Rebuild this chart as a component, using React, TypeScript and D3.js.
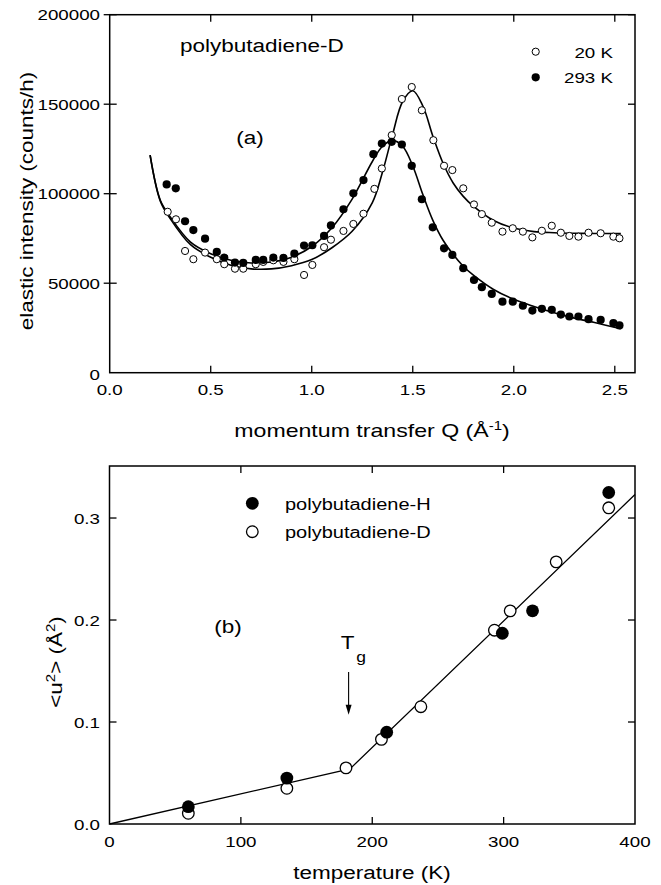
import React, { useRef, useEffect } from "react";
import * as d3 from "d3";

// (a) elastic intensity vs momentum transfer, polybutadiene-D
const qOpen = [0.287, 0.328, 0.373, 0.414, 0.472, 0.53, 0.567, 0.62, 0.661, 0.723, 0.76, 0.81, 0.86, 0.914, 0.962, 1.003, 1.061, 1.095, 1.157, 1.206, 1.256, 1.31, 1.347, 1.396, 1.446, 1.495, 1.545, 1.602, 1.655, 1.696, 1.75, 1.803, 1.842, 1.891, 1.944, 1.995, 2.045, 2.092, 2.139, 2.188, 2.233, 2.275, 2.32, 2.37, 2.43, 2.493, 2.523];
const iOpen = [89900, 85700, 68000, 63400, 67100, 63400, 60600, 58100, 58100, 60600, 61900, 62800, 61900, 63400, 54600, 60200, 70100, 74300, 79200, 83100, 88800, 102700, 114100, 132700, 152900, 159600, 146600, 129900, 115600, 113200, 103000, 94000, 88600, 83800, 78800, 80700, 78800, 75600, 79300, 82100, 78200, 76400, 76000, 78200, 77900, 76000, 75100];

const qFilled = [0.282, 0.327, 0.373, 0.414, 0.472, 0.53, 0.567, 0.62, 0.661, 0.723, 0.76, 0.81, 0.86, 0.914, 0.962, 1.003, 1.061, 1.095, 1.157, 1.206, 1.256, 1.305, 1.347, 1.396, 1.446, 1.495, 1.545, 1.599, 1.655, 1.696, 1.75, 1.803, 1.842, 1.891, 1.944, 1.995, 2.045, 2.092, 2.139, 2.188, 2.233, 2.275, 2.32, 2.37, 2.43, 2.493, 2.523];
const iFilled = [105200, 103000, 84600, 79700, 74900, 67500, 64300, 61500, 61300, 63000, 63000, 64300, 64100, 66500, 71000, 71200, 76400, 82300, 91300, 100200, 107600, 122100, 128000, 129000, 127500, 115600, 96900, 81200, 69500, 65800, 58400, 51800, 47800, 44000, 39700, 39700, 37400, 34700, 35700, 35100, 32500, 31400, 31400, 29900, 29500, 27700, 26400];

// fitted curves
const fitQ = [0.2, 0.25, 0.3, 0.4, 0.5, 0.6, 0.7, 0.8, 0.9, 1.0, 1.1, 1.2, 1.3, 1.35, 1.4, 1.45, 1.5, 1.55, 1.6, 1.65, 1.7, 1.75, 1.8, 1.9, 2.0, 2.1, 2.2, 2.3, 2.4, 2.53];
const fitOpen = [121500, 96000, 86000, 71500, 64500, 60000, 58000, 58000, 59800, 63200, 69800, 79000, 95000, 112000, 133000, 151500, 157500, 149000, 132000, 117000, 106000, 98500, 93000, 85000, 80800, 78800, 78200, 77900, 77800, 77700];
const fitFilled = [121500, 96500, 87000, 73000, 66500, 62800, 61300, 61800, 64500, 70500, 81000, 97000, 118000, 126500, 129800, 126500, 115500, 99500, 85000, 74000, 66000, 59500, 54500, 46500, 41000, 37000, 33500, 30500, 28000, 24500];

const qTicks = [0, 0.5, 1.0, 1.5, 2.0, 2.5];
const iTicks = [0, 50000, 100000, 150000, 200000];

// (b) mean square displacement vs temperature
const tempH = [60, 135, 211, 299, 322, 380];
const u2H = [0.017, 0.045, 0.09, 0.187, 0.209, 0.325];
const tempD = [60, 135, 180, 207, 237, 293, 305, 340, 380];
const u2D = [0.0105, 0.035, 0.055, 0.083, 0.115, 0.19, 0.209, 0.257, 0.31];
const fitT = [0, 183, 400];
const fitU2 = [0, 0.054, 0.323];
const TG = 182;

const tTicks = [0, 100, 200, 300, 400];
const uTicks = [0, 0.1, 0.2, 0.3];

const FONT = "'Liberation Sans', Arial, Helvetica, sans-serif";
const SX = 1.25; // the original lettering is wide

const addText = (g, x, y, str, size, anchor = "start", rot = 0) =>
  g
    .append("text")
    .attr("transform", `translate(${x},${y}) rotate(${rot}) scale(${SX},1)`)
    .attr("text-anchor", anchor)
    .style("font-size", `${size}px`)
    .text(str);

const drawBox = (g, x, y, tick) => {
  const [x0, x1] = x.range();
  const [y0, y1] = y.range();
  g.append("rect")
    .attr("x", x0)
    .attr("y", y1)
    .attr("width", x1 - x0)
    .attr("height", y0 - y1)
    .attr("fill", "none")
    .attr("stroke", "black")
    .attr("stroke-width", 1.5);
};

export default function App() {
  const ref = useRef(null);

  useEffect(() => {
    const svg = d3.select(ref.current);
    svg.selectChildren().remove();
    const root = svg.append("g").style("font-family", FONT).attr("fill", "black");

    // ---------- (a) ----------
    const xA = d3.scaleLinear().domain([0, 2.6]).range([109.7, 635]);
    const yA = d3.scaleLinear().domain([0, 200000]).range([372.7, 14.7]);
    const a = root.append("g");
    drawBox(a, xA, yA);

    // ticks
    qTicks.slice(1).forEach((q) => {
      a.append("line").attr("x1", xA(q)).attr("x2", xA(q)).attr("y1", yA(0)).attr("y2", yA(0) - 7).attr("stroke", "black").attr("stroke-width", 1.3);
      a.append("line").attr("x1", xA(q)).attr("x2", xA(q)).attr("y1", yA(200000)).attr("y2", yA(200000) + 7).attr("stroke", "black").attr("stroke-width", 1.3);
    });
    iTicks.slice(1).forEach((v) => {
      a.append("line").attr("x1", xA(0) - 6).attr("x2", xA(0) + 7).attr("y1", yA(v)).attr("y2", yA(v)).attr("stroke", "black").attr("stroke-width", 1.3);
      a.append("line").attr("x1", xA(2.6)).attr("x2", xA(2.6) - 7).attr("y1", yA(v)).attr("y2", yA(v)).attr("stroke", "black").attr("stroke-width", 1.3);
    });
    qTicks.forEach((q) => addText(a, xA(q), yA(0) + 22.5, d3.format(".1f")(q), 15, "middle"));
    iTicks.forEach((v) => addText(a, 100, yA(v) + (v === 0 ? 7.5 : 5.5), d3.format("d")(v), 15, "end"));

    // axis titles
    const xt = addText(a, 372, 436.7, "momentum transfer Q (Å", 18.5, "middle");
    xt.append("tspan").attr("dy", -7).style("font-size", "12px").text("-1");
    xt.append("tspan").attr("dy", 7).text(")");
    addText(a, 33, 201, "elastic intensity (counts/h)", 18, "middle", -90);

    // fitted curves
    const lineA = d3
      .line()
      .x((d) => xA(d[0]))
      .y((d) => yA(d[1]))
      .curve(d3.curveCatmullRom.alpha(0.5));
    [fitOpen, fitFilled].forEach((f) =>
      a.append("path")
        .attr("d", lineA(fitQ.map((q, i) => [q, f[i]])))
        .attr("fill", "none")
        .attr("stroke", "black")
        .attr("stroke-width", 1.6)
    );

    // points
    a.selectAll("circle.open")
      .data(qOpen.map((q, i) => [q, iOpen[i]]))
      .enter()
      .append("circle")
      .attr("class", "open")
      .attr("cx", (d) => xA(d[0]))
      .attr("cy", (d) => yA(d[1]))
      .attr("r", 3.6)
      .attr("fill", "white")
      .attr("stroke", "black")
      .attr("stroke-width", 1);
    a.selectAll("circle.filled")
      .data(qFilled.map((q, i) => [q, iFilled[i]]))
      .enter()
      .append("circle")
      .attr("class", "filled")
      .attr("cx", (d) => xA(d[0]))
      .attr("cy", (d) => yA(d[1]))
      .attr("r", 4.1)
      .attr("fill", "black");

    // labels + legend
    addText(a, 180, 52, "polybutadiene-D", 18);
    addText(a, 250, 144, "(a)", 18, "middle");
    a.append("circle").attr("cx", 535.7).attr("cy", 51.7).attr("r", 3.6).attr("fill", "white").attr("stroke", "black");
    a.append("circle").attr("cx", 535.7).attr("cy", 77.3).attr("r", 4.1).attr("fill", "black");
    addText(a, 613, 57.5, "20 K", 15, "end");
    addText(a, 613, 83, "293 K", 15, "end");

    // ---------- (b) ----------
    const xB = d3.scaleLinear().domain([0, 400]).range([109.5, 635]);
    const yB = d3.scaleLinear().domain([0, 0.351]).range([824, 466]);
    const b = root.append("g");
    drawBox(b, xB, yB);

    tTicks.slice(1, -1).forEach((t) => {
      b.append("line").attr("x1", xB(t)).attr("x2", xB(t)).attr("y1", yB(0)).attr("y2", yB(0) - 7).attr("stroke", "black").attr("stroke-width", 1.3);
      b.append("line").attr("x1", xB(t)).attr("x2", xB(t)).attr("y1", yB(0.351)).attr("y2", yB(0.351) + 7).attr("stroke", "black").attr("stroke-width", 1.3);
    });
    uTicks.slice(1).forEach((v) => {
      b.append("line").attr("x1", xB(0)).attr("x2", xB(0) + 7).attr("y1", yB(v)).attr("y2", yB(v)).attr("stroke", "black").attr("stroke-width", 1.3);
      b.append("line").attr("x1", xB(400)).attr("x2", xB(400) - 7).attr("y1", yB(v)).attr("y2", yB(v)).attr("stroke", "black").attr("stroke-width", 1.3);
    });
    tTicks.forEach((t) => addText(b, xB(t), yB(0) + 22.5, d3.format("d")(t), 15, "middle"));
    uTicks.forEach((v) => addText(b, 100, yB(v) + 5.5, d3.format(".1f")(v), 15, "end"));

    addText(b, 372, 879, "temperature (K)", 18, "middle");
    const yt = addText(b, 62, 662, "<u", 18, "middle", -90);
    yt.append("tspan").attr("dy", -7).style("font-size", "12px").text("2");
    yt.append("tspan").attr("dy", 7).text("> (Å");
    yt.append("tspan").attr("dy", -7).style("font-size", "12px").text("2");
    yt.append("tspan").attr("dy", 7).text(")");

    const lineB = d3.line().x((d) => xB(d[0])).y((d) => yB(d[1]));
    b.append("path")
      .attr("d", lineB(fitT.map((t, i) => [t, fitU2[i]])))
      .attr("fill", "none")
      .attr("stroke", "black")
      .attr("stroke-width", 1.3);

    b.selectAll("circle.open")
      .data(tempD.map((t, i) => [t, u2D[i]]))
      .enter()
      .append("circle")
      .attr("class", "open")
      .attr("cx", (d) => xB(d[0]))
      .attr("cy", (d) => yB(d[1]))
      .attr("r", 5.8)
      .attr("fill", "white")
      .attr("stroke", "black")
      .attr("stroke-width", 1.3);
    b.selectAll("circle.filled")
      .data(tempH.map((t, i) => [t, u2H[i]]))
      .enter()
      .append("circle")
      .attr("class", "filled")
      .attr("cx", (d) => xB(d[0]))
      .attr("cy", (d) => yB(d[1]))
      .attr("r", 6.4)
      .attr("fill", "black");

    // legend
    b.append("circle").attr("cx", 252.3).attr("cy", 503.3).attr("r", 6.4).attr("fill", "black");
    b.append("circle").attr("cx", 252.3).attr("cy", 531.7).attr("r", 5.8).attr("fill", "white").attr("stroke", "black").attr("stroke-width", 1.3);
    addText(b, 285, 509.5, "polybutadiene-H", 16);
    addText(b, 285, 538, "polybutadiene-D", 16);
    addText(b, 228, 633, "(b)", 18, "middle");

    // Tg marker
    const tx = xB(TG);
    addText(b, tx - 1, 648.5, "T", 18, "middle");
    addText(b, tx + 12.5, 662, "g", 14, "middle");
    b.append("line").attr("x1", tx).attr("x2", tx).attr("y1", yB(0.149)).attr("y2", yB(0.107) - 8).attr("stroke", "black").attr("stroke-width", 1.1);
    b.append("path")
      .attr("d", `M${tx - 3},${yB(0.107) - 10} L${tx + 3},${yB(0.107) - 10} L${tx},${yB(0.107)} Z`)
      .attr("fill", "black");
  }, []);

  return (
    <svg
      ref={ref}
      width={661}
      height={885}
      style={{ position: "absolute", left: 0, top: 0, background: "white" }}
    />
  );
}
